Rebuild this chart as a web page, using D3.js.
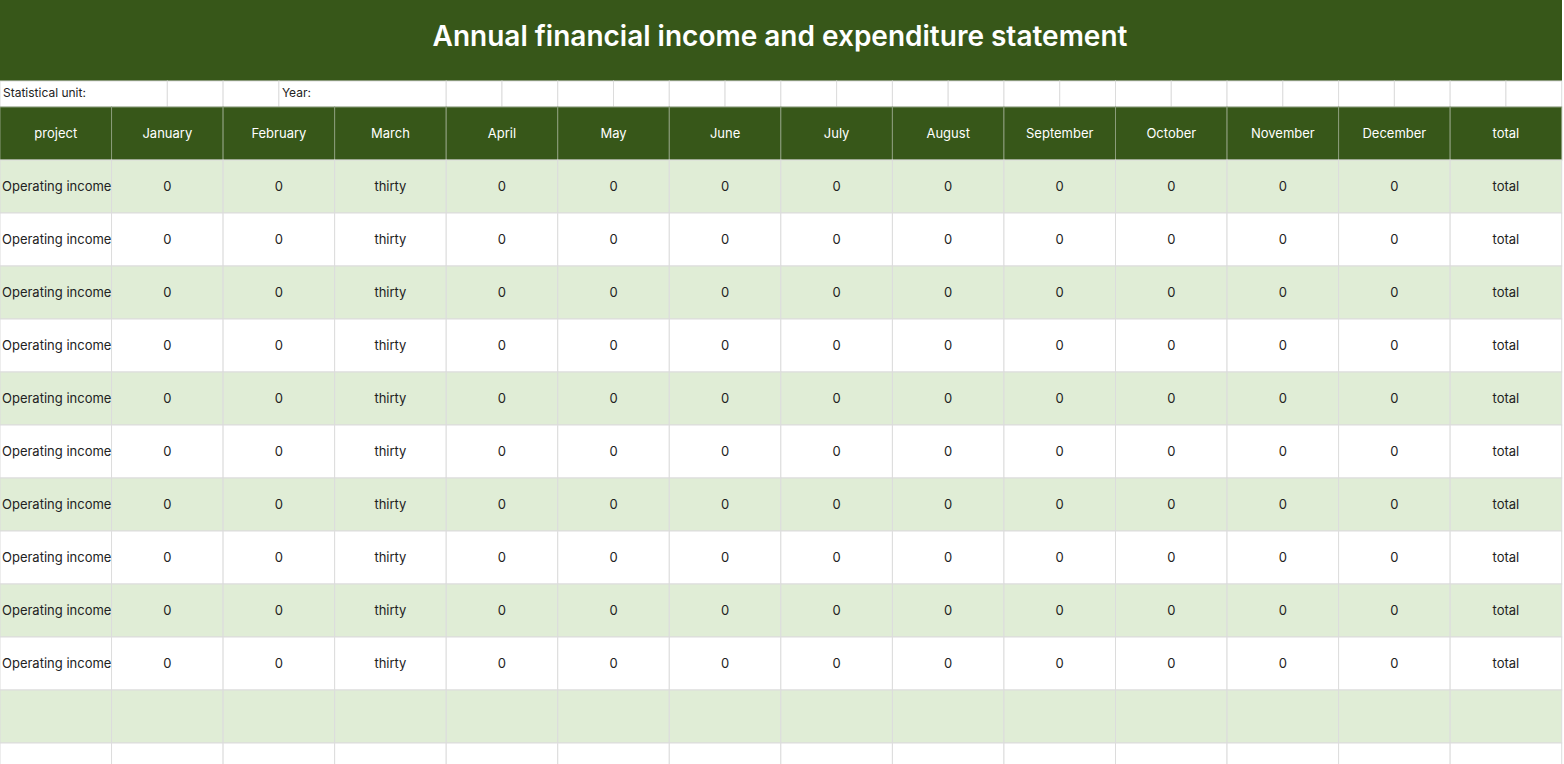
<!DOCTYPE html>
<html><head><meta charset="utf-8">
<script src="https://cdn.jsdelivr.net/npm/d3@7"></script>
<style>body{margin:0;background:#fff;overflow:hidden}</style>
</head><body>
<script>
var title = "Annual financial income and expenditure statement";
var columns = ["project","January","February","March","April","May","June","July","August","September","October","November","December","total"];
var rowLabels = ["Operating income","Operating income","Operating income","Operating income","Operating income","Operating income","Operating income","Operating income","Operating income","Operating income"];
var monthValues = [0, 0, "thirty", 0, 0, 0, 0, 0, 0, 0, 0, 0];
var totalLabel = "total";
var infoCells = [["Statistical unit:", 0, 3], ["", 3, 4], ["", 4, 5], ["Year:", 5, 8]];

var W = 1564, H = 764, colW = 111.55, dark = "#375719", light = "#e0edd6", grid = "#dcdcdc";
var font = "Inter, 'Noto Sans', sans-serif";

var svg = d3.select("body").append("svg").attr("width", W).attr("height", H)
    .style("font-family", font);

var x = d3.scaleLinear().domain([0, 14]).range([0, 14 * colW]);

// title band
svg.append("rect").attr("width", W - 2).attr("height", 81).attr("fill", dark);
svg.append("text").attr("x", 780).attr("y", 38).attr("text-anchor", "middle")
    .attr("dominant-baseline", "middle").attr("fill", "#fff")
    .attr("font-size", 28).attr("font-weight", 600).text(title);

// info row (half-column grid)
var infoY = 81, infoH = 26;
var cells = infoCells.map(function(c) { return c; });
for (var i = 8; i < 28; i++) cells.push(["", i, i + 1]);
svg.selectAll(".info").data(cells).enter().append("g").each(function(d) {
    var g = d3.select(this);
    g.append("rect").attr("x", x(d[1] / 2)).attr("y", infoY)
        .attr("width", x(d[2] / 2) - x(d[1] / 2)).attr("height", infoH)
        .attr("fill", "#fff").attr("stroke", grid);
    g.append("text").attr("x", x(d[1] / 2) + 3).attr("y", infoY + infoH / 2)
        .attr("dominant-baseline", "middle").attr("font-size", 12).attr("fill", "#222").text(d[0]);
});

// header
var headY = 107, headH = 53;
svg.selectAll(".head").data(columns).enter().append("g").each(function(d, i) {
    var g = d3.select(this);
    g.append("rect").attr("x", x(i)).attr("y", headY).attr("width", colW).attr("height", headH)
        .attr("fill", dark).attr("stroke", "#8a9c7a");
    g.append("text").attr("x", x(i) + colW / 2).attr("y", headY + headH / 2 + 1)
        .attr("text-anchor", "middle").attr("dominant-baseline", "middle")
        .attr("fill", "#fff").attr("font-size", 13).text(d);
});

// body rows
var rowH = 53, bodyY = 160;
var rows = rowLabels.map(function(l) { return [l].concat(monthValues, [totalLabel]); });
rows.push(columns.map(function() { return ""; }));
rows.push(columns.map(function() { return ""; }));
var y = d3.scaleLinear().domain([0, 1]).range([bodyY, bodyY + rowH]);

rows.forEach(function(r, ri) {
    var g = svg.append("g");
    g.selectAll("rect").data(r).enter().append("rect")
        .attr("x", function(d, i) { return x(i); }).attr("y", y(ri))
        .attr("width", colW).attr("height", rowH)
        .attr("fill", ri % 2 === 0 ? light : "#fff").attr("stroke", grid);
    g.selectAll("text").data(r).enter().append("text")
        .attr("x", function(d, i) { return i === 0 ? x(i) + 2 : x(i) + colW / 2; })
        .attr("y", y(ri) + rowH / 2 + 1)
        .attr("text-anchor", function(d, i) { return i === 0 ? "start" : "middle"; })
        .attr("dominant-baseline", "middle").attr("font-size", 13).attr("fill", "#222")
        .text(function(d) { return d; });
});
</script>
</body></html>
